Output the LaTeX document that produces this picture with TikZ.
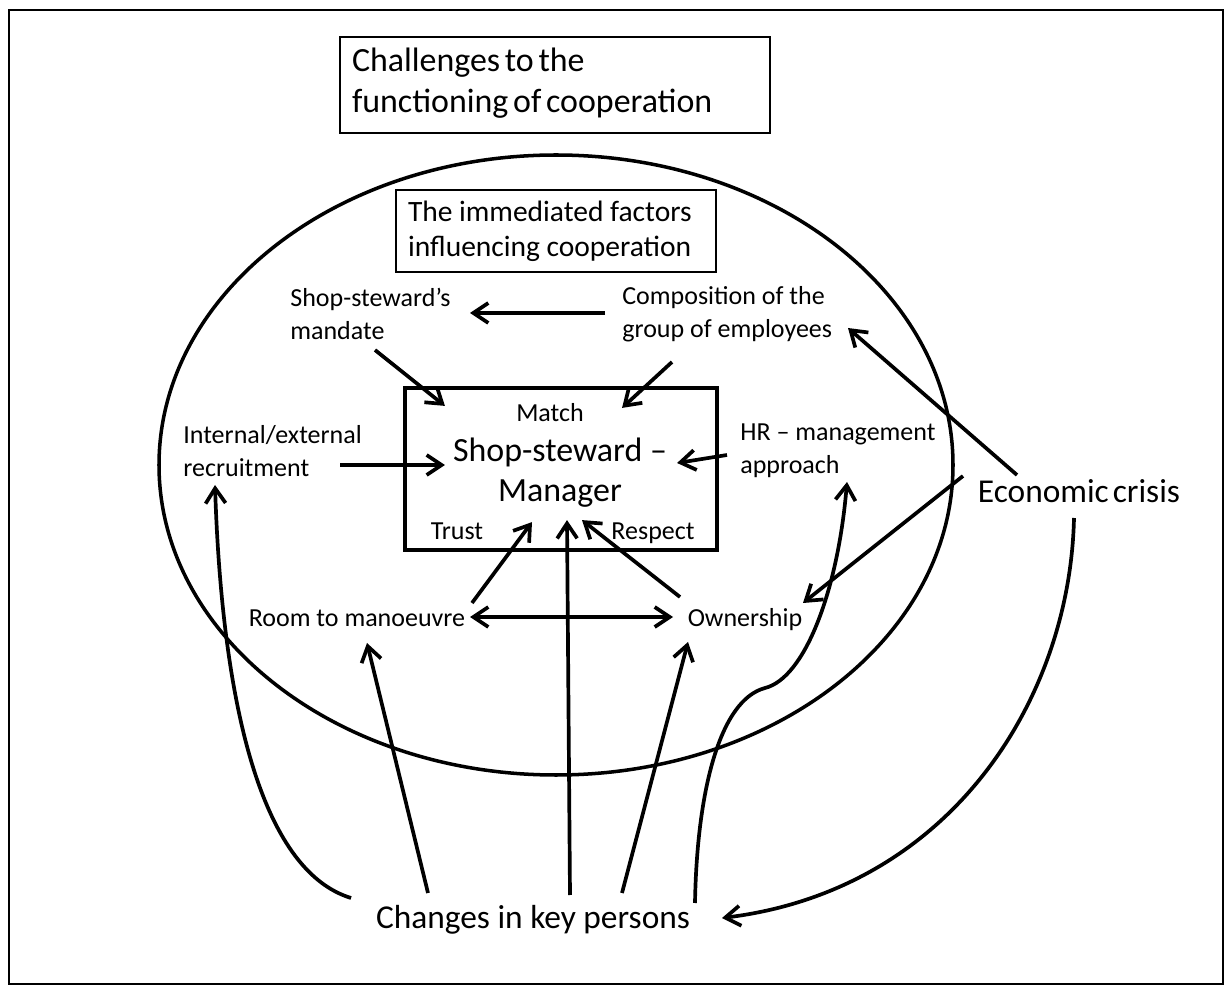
\documentclass[tikz,border=0pt]{standalone}
\usepackage{fontspec}
\setmainfont{Carlito}
\usetikzlibrary{arrows.meta,calc}

\tikzset{
  >={Straight Barb[length=0.3cm,width=0.4cm]},
  arr/.style={line width=2.1pt,->},
  lbl/.style={inner sep=0pt,align=left,font=\fontsize{14.8}{18.7}\selectfont},
  one/.style={text height=13pt,text depth=3.5pt},
  big/.style={inner sep=0pt,text height=17pt,text depth=4.5pt,font=\fontsize{19}{22.7}\selectfont},
  thinbox/.style={draw,line width=0.8pt,inner xsep=0.24cm,align=left},
}

\begin{document}
\begin{tikzpicture}[x=0.02cm,y=-0.02cm]
  \useasboundingbox (0,0) rectangle (1225,986);
  \draw[line width=1.4pt] (9,10) rectangle (1223,984);
  % outer and inner framing
  \node[thinbox,minimum width=8.6cm,minimum height=1.92cm,text width=8.12cm,
    font=\fontsize{19.3}{23.5}\selectfont] (title) at (555,85)
    {\spaceskip=0.14em Challenges to the\\functioning of cooperation\vspace{2pt}};
  \draw[line width=2pt] (556,465) ellipse [x radius=397,y radius=310];
  \node[thinbox,minimum width=6.4cm,minimum height=1.64cm,text width=5.92cm,
    font=\fontsize{16.8}{19.8}\selectfont] (factors) at (556,231)
    {\spaceskip=0.22em The immediated factors\\influencing cooperation};
  % central match box
  \node[draw,line width=2.4pt,minimum width=6.24cm,minimum height=3.24cm] (matchbox) at (561,469) {};
  \node[lbl,one] (match) at (550,413) {Match};
  \node[inner sep=0pt,align=center,font=\fontsize{19.3}{22.7}\selectfont] (pair) at (560,473) {Shop-steward --\\Manager};
  \node[lbl,one] (trust) at (457,531) {Trust};
  \node[lbl,one] (respect) at (653,531) {Respect};
  % factors
  \node[lbl,anchor=west] (mandate) at (290,314) {Shop-steward’s\\mandate};
  \node[lbl,anchor=west] (composition) at (622,314) {Composition of the\\group of employees};
  \node[lbl,anchor=west] (recruit) at (183,451) {Internal/external\\recruitment};
  \node[lbl,anchor=west] (hr) at (740,451) {HR -- management\\approach};
  \node[lbl,one] (room) at (357,618) {Room to manoeuvre};
  \node[lbl,one] (owner) at (745,618) {Ownership};
  \node[big] (crisis) at (1079,492) {\spaceskip=0.12em Economic crisis};
  \node[big] (changes) at (533,918) {Changes in key persons};
  % arrows inside
  \draw[arr] ($(composition.west)+(-17,-1)$) -- ($(mandate.west)+(180,-1)$);
  \draw[arr] ($(mandate.west)+(85,36)$) -- ($(matchbox.north west)+(42,20)$);
  \draw[arr] ($(composition.west)+(50,48)$) -- ($(matchbox.north east)+(-97,22)$);
  \draw[arr] ($(recruit.west)+(157,14)$) -- ($(matchbox.west)+(42,-4)$);
  \draw[arr] ($(hr.west)+(-13,4)$) -- ($(matchbox.east)+(-42,-6)$);
  \draw[arr,<->] ($(room)+(113,-1)$) -- ($(owner)+(-72,-1)$);
  \draw[arr] ($(room)+(115,-15)$) -- ($(matchbox.south)+(-29,-30)$);
  \draw[arr] ($(owner)+(-65,-21)$) -- ($(matchbox.south)+(21,-32)$);
  % economic crisis
  \draw[arr] ($(crisis)+(-62,-17)$) -- ($(composition.west)+(226,14)$);
  \draw[arr] ($(crisis)+(-116,-16)$) -- ($(owner)+(58,-15)$);
  \draw[arr] ($(crisis)+(-5,26)$) .. controls (1070,700) and (950,890) .. ($(changes)+(189,0)$);
  % changes in key persons
  \draw[arr] ($(changes)+(37,-23)$) -- ($(matchbox.south)+(6,-32)$);
  \draw[arr] ($(changes)+(-105,-25)$) -- ($(room)+(10,25)$);
  \draw[arr] ($(changes)+(89,-25)$) -- ($(owner)+(-57,24)$);
  \draw[arr] ($(changes)+(-182,-20)$) .. controls (260,870) and (222,700) .. ($(recruit.west)+(32,34)$);
  \draw[arr] ($(changes)+(162,-15)$) .. controls (697,790) and (720,700) .. (765,688)
    .. controls (805,678) and (838,590) .. ($(hr.west)+(107,31)$);
\end{tikzpicture}
\end{document}
